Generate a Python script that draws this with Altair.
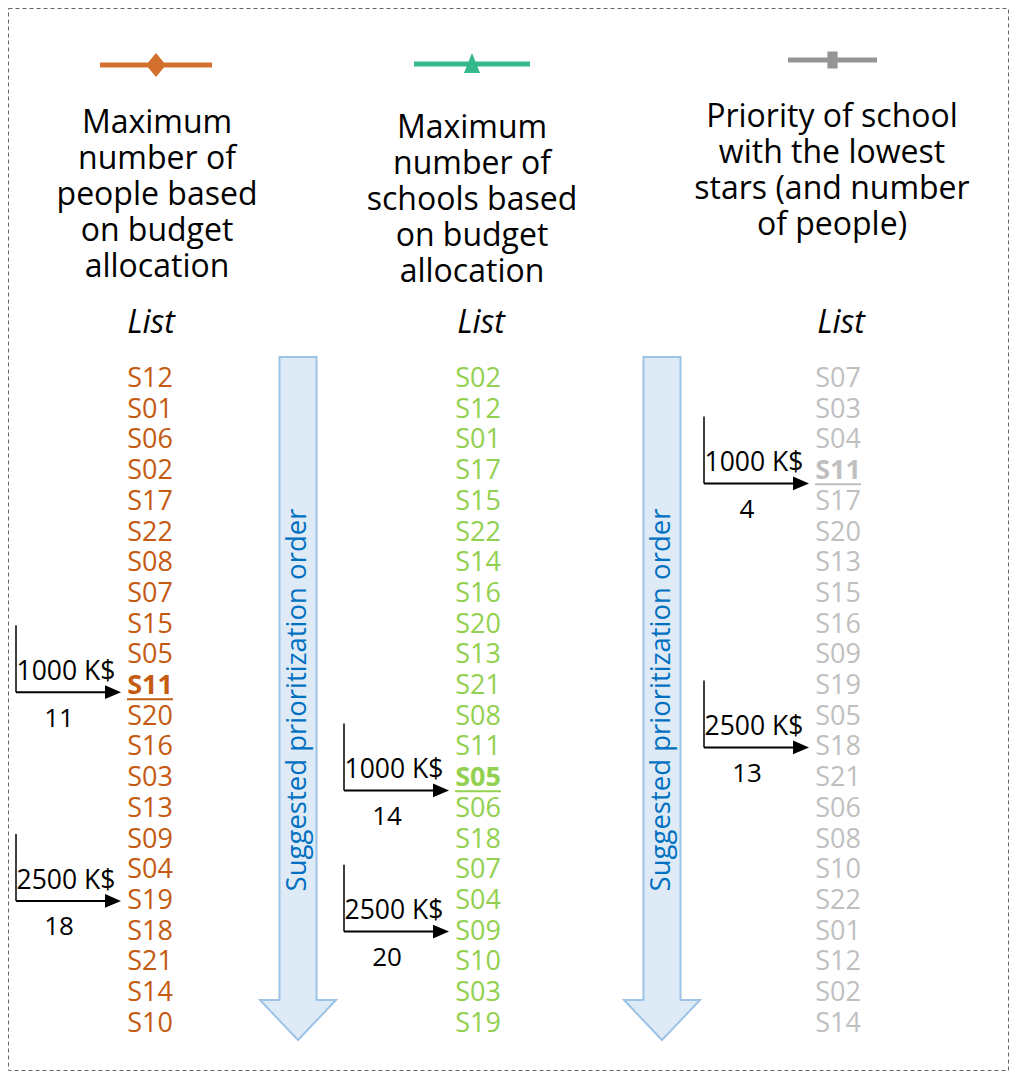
import altair as alt
import pandas as pd

# ---------------- data ----------------
header_people = ["Maximum", "number of", "people based", "on budget", "allocation"]
header_schools = ["Maximum", "number of", "schools based", "on budget", "allocation"]
header_stars = ["Priority of school", "with the lowest", "stars (and number", "of people)"]
list_caption = "List"
order_caption = "Suggested prioritization order"

list_people = ["S12", "S01", "S06", "S02", "S17", "S22", "S08", "S07", "S15", "S05", "S11",
               "S20", "S16", "S03", "S13", "S09", "S04", "S19", "S18", "S21", "S14", "S10"]
list_schools = ["S02", "S12", "S01", "S17", "S15", "S22", "S14", "S16", "S20", "S13", "S21",
                "S08", "S11", "S05", "S06", "S18", "S07", "S04", "S09", "S10", "S03", "S19"]
list_stars = ["S07", "S03", "S04", "S11", "S17", "S20", "S13", "S15", "S16", "S09", "S19",
              "S05", "S18", "S21", "S06", "S08", "S10", "S22", "S01", "S12", "S02", "S14"]

budget_labels = ["1000 K$", "2500 K$"]
people_counts = ["11", "18"]
schools_counts = ["14", "20"]
stars_counts = ["4", "13"]
people_arrow_rank = [11.2, 18]
schools_arrow_rank = [14.4, 19]
stars_arrow_rank = [4.4, 13]
highlight_rank = [11, 14, 4]

text_colors = ["#C55A11", "#92D050", "#BFBFBF"]
legend_colors = ["#D4702E", "#36B98A", "#959595"]

# ---------------- layout ----------------
W, H = 1000, 1062
ROW_H = 30.7
ROW1_Y = 371.0
Y_TOP = 1 - ROW1_Y / ROW_H
Y_BOT = Y_TOP + H / ROW_H


def row(px):
    return 1 + (px - ROW1_Y) / ROW_H


FONT = "Open Sans"
col_list_x = [142, 470, 830]
col_head_x = [149, 464, 824]
head_top_y = [115, 120, 109]
HEAD_LH = 36
caption_x = [143, 473, 833]
caption_y = 315
legend_x0 = [92, 406, 780]
legend_x1 = [204, 522, 869]
legend_y = [57, 56, 52]
big_arrow_x = [290, 654]
big_arrow_y = 690.5

headers = [header_people, header_schools, header_stars]
lists = [list_people, list_schools, list_stars]
counts = [people_counts, schools_counts, stars_counts]
arrow_ranks = [people_arrow_rank, schools_arrow_rank, stars_arrow_rank]

X = alt.Scale(domain=[0, W], nice=False, zero=False)
Y = alt.Scale(domain=[Y_TOP, Y_BOT], nice=False, zero=False, reverse=True)


def xe(f="x"):
    return alt.X(f"{f}:Q", scale=X, axis=None)


def ye(f="y"):
    return alt.Y(f"{f}:Q", scale=Y, axis=None)


# header lines
hdr = pd.DataFrame([
    {"x": col_head_x[c], "y": row(head_top_y[c] + i * HEAD_LH), "t": line}
    for c, h in enumerate(headers) for i, line in enumerate(h)
])
cap = pd.DataFrame([{"x": caption_x[c], "y": row(caption_y), "t": list_caption} for c in range(3)])

items = pd.DataFrame([
    {"x": col_list_x[c], "y": r + 1, "t": name, "color": text_colors[c],
     "bold": (r + 1) == highlight_rank[c]}
    for c, lst in enumerate(lists) for r, name in enumerate(lst)
])
underline = pd.DataFrame([
    {"x": col_list_x[c] - 23, "x2": col_list_x[c] + 23, "y": highlight_rank[c] + 0.43,
     "color": text_colors[c]} for c in range(3)
])

leg_lines = pd.DataFrame([
    {"x": legend_x0[c], "x2": legend_x1[c], "y": row(legend_y[c]), "color": legend_colors[c]}
    for c in range(3)
])
leg_mid = [(legend_x0[c] + legend_x1[c]) / 2 for c in range(3)]

budget_rows = []
for c in range(3):
    for k in range(2):
        sx = col_list_x[c] - 134
        tx = col_list_x[c] - 29
        ry = arrow_ranks[c][k]
        budget_rows.append({"sx": sx, "tx": tx, "lx": tx - 12, "hx": tx - 8, "ry": ry,
                            "vy": ry - 2.18, "ly": ry - 0.66, "cy": ry + 0.86,
                            "bx": sx + 50, "cx": sx + 43,
                            "lab": budget_labels[k], "cnt": counts[c][k]})
bud = pd.DataFrame(budget_rows)

big = pd.DataFrame([{"x": bx, "y": row(big_arrow_y), "ty": row(big_arrow_y + 1.5), "t": order_caption}
                    for bx in big_arrow_x])

# ---------------- marks ----------------
ARROW_PATH = ("M-0.0542,-1L0.0542,-1L0.0542,0.883L0.1113,0.883L0,1L-0.1113,0.883"
              "L-0.0542,0.883Z")
big_fill = alt.Chart(big).mark_point(shape=ARROW_PATH, filled=True, fill="#DEEBF7",
                                     opacity=1, size=683 * 683, strokeWidth=0).encode(x=xe(), y=ye())
big_stroke = alt.Chart(big).mark_point(shape=ARROW_PATH, filled=False, stroke="#9DC3E6",
                                       strokeWidth=2, opacity=1, size=683 * 683).encode(x=xe(), y=ye())
big_text = alt.Chart(big).mark_text(angle=270, font=FONT, fontSize=27.5, color="#0070C0",
                                    align="center", baseline="middle").encode(
    x=xe(), y=ye("ty"), text="t:N")

hdr_text = alt.Chart(hdr).mark_text(font=FONT, fontSize=32, color="#000000",
                                    align="center", baseline="middle").encode(x=xe(), y=ye(), text="t:N")
cap_text = alt.Chart(cap).mark_text(font=FONT, fontSize=32, fontStyle="italic", color="#000000",
                                    align="center", baseline="middle").encode(x=xe(), y=ye(), text="t:N")

item_norm = alt.Chart(items).transform_filter("!datum.bold").mark_text(
    font=FONT, fontSize=27, align="center", baseline="middle").encode(
    x=xe(), y=ye(), text="t:N", color=alt.Color("color:N", scale=None))
item_bold = alt.Chart(items).transform_filter("datum.bold").mark_text(
    font=FONT, fontSize=27, fontWeight="bold", align="center", baseline="middle").encode(
    x=xe(), y=ye(), text="t:N", color=alt.Color("color:N", scale=None))
ul = alt.Chart(underline).mark_rule(strokeWidth=2).encode(
    x=xe(), x2="x2:Q", y=ye(), color=alt.Color("color:N", scale=None))

leg_rule = alt.Chart(leg_lines).mark_rule(strokeWidth=5).encode(
    x=xe(), x2="x2:Q", y=ye(), color=alt.Color("color:N", scale=None))
leg_d = alt.Chart(pd.DataFrame([{"x": leg_mid[0], "y": row(legend_y[0])}])).mark_point(
    shape="M0,-1L0.83,0L0,1L-0.83,0Z", filled=True, opacity=1, size=576,
    color=legend_colors[0]).encode(x=xe(), y=ye())
leg_t = alt.Chart(pd.DataFrame([{"x": leg_mid[1], "y": row(legend_y[1] - 1)}])).mark_point(
    shape="M0,-1L0.8,1L-0.8,1Z", filled=True, opacity=1, size=400,
    color=legend_colors[1]).encode(x=xe(), y=ye())
leg_s = alt.Chart(pd.DataFrame([{"x": leg_mid[2], "y": row(legend_y[2])}])).mark_point(
    shape="M-0.6,-1L0.6,-1L0.6,1L-0.6,1Z", filled=True, opacity=1, size=289,
    color=legend_colors[2]).encode(x=xe(), y=ye())

bv = alt.Chart(bud).mark_rule(strokeWidth=1.5, color="#000000").encode(
    x=xe("sx"), y=ye("vy"), y2="ry:Q")
bh = alt.Chart(bud).mark_rule(strokeWidth=2, color="#000000").encode(
    x=xe("sx"), x2="lx:Q", y=ye("ry"))
bhead = alt.Chart(bud).mark_point(shape="M-1,-0.85L1,0L-1,0.85Z", filled=True, opacity=1,
                                  size=256, color="#000000").encode(x=xe("hx"), y=ye("ry"))
blab = alt.Chart(bud).mark_text(font=FONT, fontSize=26.5, color="#000000", align="center",
                                baseline="middle").encode(x=xe("bx"), y=ye("ly"), text="lab:N")
bcnt = alt.Chart(bud).mark_text(font=FONT, fontSize=26, color="#000000", align="center",
                                baseline="middle").encode(x=xe("cx"), y=ye("cy"), text="cnt:N")

chart = alt.layer(
    big_fill, big_stroke, big_text,
    leg_rule, leg_d, leg_t, leg_s,
    hdr_text, cap_text,
    item_norm, item_bold, ul,
    bv, bh, bhead, blab, bcnt,
).properties(
    width=W, height=H,
    padding={"left": 0, "top": 0, "right": 3, "bottom": 3},
    autosize=alt.AutoSizeParams(type="none"),
    background="#FFFFFF",
).configure_view(stroke="#666666", strokeDash=[4, 3], strokeWidth=1)

chart.save("out.html", embed_options={"renderer": "svg", "actions": False})
